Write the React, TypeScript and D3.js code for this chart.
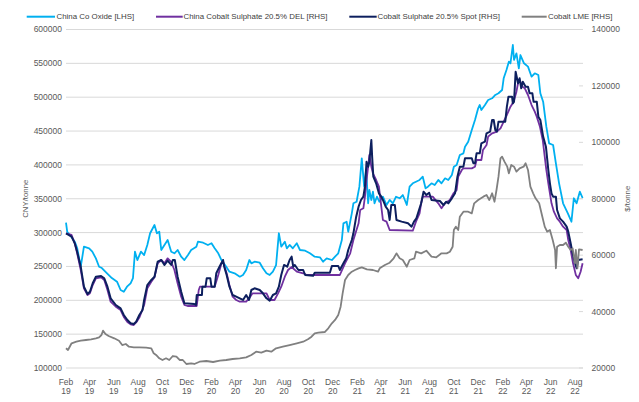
import React from "react";
import * as d3 from "d3";

const W = 639;
const H = 402;

// China Co Oxide [LHS], CNY/tonne
const coOxide: [string, number][] = [
  ["2019-02-01",314600],["2019-02-04",301300],["2019-02-11",296500],["2019-02-23",286600],["2019-03-01",277300],["2019-03-10",249600],["2019-03-18",279200],["2019-03-31",276800],["2019-04-08",271800],["2019-04-17",262000],["2019-04-25",249600],["2019-05-02",247700],["2019-05-15",239900],["2019-05-27",232900],["2019-06-09",227500],["2019-06-18",215200],["2019-06-26",212700],["2019-07-04",220100],["2019-07-13",225100],["2019-07-19",232900],["2019-07-24",271800],["2019-07-30",259500],["2019-08-08",271800],["2019-08-16",266900],["2019-08-24",281700],["2019-08-31",299000],["2019-09-11",311200],["2019-09-17",299000],["2019-09-23",301300],["2019-09-28",274300],["2019-10-06",281700],["2019-10-14",289100],["2019-10-23",271800],["2019-10-31",269400],["2019-11-08",274300],["2019-11-17",264400],["2019-11-25",259500],["2019-12-04",266900],["2019-12-12",274300],["2019-12-25",279200],["2019-12-29",286600],["2020-01-11",285100],["2020-01-23",281700],["2020-02-01",284200],["2020-02-09",276800],["2020-02-18",269400],["2020-02-26",259500],["2020-03-09",249600],["2020-03-17",242200],["2020-03-30",239900],["2020-04-12",234900],["2020-04-20",237400],["2020-04-28",244800],["2020-05-06",259500],["2020-05-11",254600],["2020-05-19",257000],["2020-06-01",255500],["2020-06-09",247300],["2020-06-18",239900],["2020-06-26",237400],["2020-07-04",242200],["2020-07-12",252100],["2020-07-19",299000],["2020-07-25",279200],["2020-08-03",286600],["2020-08-08",276800],["2020-08-15",281700],["2020-08-23",276800],["2020-09-02",284200],["2020-09-10",274300],["2020-09-23",273300],["2020-10-05",269400],["2020-10-17",264400],["2020-10-30",263500],["2020-11-07",257000],["2020-11-16",262000],["2020-11-29",259500],["2020-12-07",264400],["2020-12-15",269400],["2020-12-24",289100],["2020-12-28",313700],["2021-01-05",316100],["2021-01-09",301300],["2021-01-18",328500],["2021-01-22",343300],["2021-01-30",345600],["2021-02-06",367800],["2021-02-12",409700],["2021-02-18",367800],["2021-02-23",392500],["2021-02-28",343300],["2021-03-03",362900],["2021-03-08",348200],["2021-03-12",360400],["2021-03-16",343300],["2021-03-22",353000],["2021-03-28",345600],["2021-04-06",353000],["2021-04-15",340800],["2021-04-23",348200],["2021-05-01",343300],["2021-05-09",353000],["2021-05-18",350700],["2021-05-26",355500],["2021-06-05",340800],["2021-06-12",367800],["2021-06-20",372800],["2021-06-28",375200],["2021-07-07",377700],["2021-07-15",382600],["2021-07-22",365400],["2021-07-28",367800],["2021-08-06",372800],["2021-08-14",370300],["2021-08-23",377700],["2021-08-31",372800],["2021-09-09",380200],["2021-09-17",377700],["2021-09-26",385100],["2021-10-01",397300],["2021-10-08",399900],["2021-10-16",414600],["2021-10-25",417100],["2021-10-29",426900],["2021-11-06",434300],["2021-11-15",451600],["2021-11-23",466300],["2021-12-01",483600],["2021-12-05",488500],["2021-12-09",481100],["2021-12-18",488500],["2021-12-26",495900],["2022-01-05",498400],["2022-01-13",503300],["2022-01-21",505800],["2022-01-30",510600],["2022-02-03",527900],["2022-02-10",540200],["2022-02-16",552400],["2022-02-20",550100],["2022-02-26",577100],["2022-03-01",555000],["2022-03-07",564800],["2022-03-13",542700],["2022-03-17",562300],["2022-03-26",550100],["2022-04-05",545100],["2022-04-14",530300],["2022-04-22",535300],["2022-05-01",532800],["2022-05-06",505800],["2022-05-13",493400],["2022-05-21",456400],["2022-05-28",431900],["2022-06-07",429400],["2022-06-14",402400],["2022-06-22",372800],["2022-07-02",343300],["2022-07-14",328500],["2022-07-23",316100],["2022-07-29",350700],["2022-08-05",343300],["2022-08-13",360400],["2022-08-20",351100]
];

// China Cobalt Sulphate 20.5% DEL [RHS]
const sulphateDel: [string, number][] = [
  ["2019-02-01",67750],["2019-02-15",67160],["2019-02-23",64200],["2019-03-01",60650],["2019-03-10",54740],["2019-03-18",48250],["2019-03-27",45880],["2019-04-02",46480],["2019-04-09",49420],["2019-04-17",51800],["2019-04-30",52150],["2019-05-08",51200],["2019-05-16",47650],["2019-05-24",43500],["2019-06-06",41740],["2019-06-18",40560],["2019-06-26",38080],["2019-07-05",36310],["2019-07-13",35490],["2019-07-21",35240],["2019-07-28",36310],["2019-08-05",38190],["2019-08-16",42330],["2019-08-24",48250],["2019-09-03",50590],["2019-09-11",52150],["2019-09-19",57110],["2019-09-28",58290],["2019-10-06",57110],["2019-10-14",58880],["2019-10-23",57580],["2019-10-31",54740],["2019-11-08",50030],["2019-11-17",45280],["2019-11-25",42330],["2019-12-03",41980],["2019-12-24",41980],["2019-12-26",41980],["2019-12-31",47650],["2020-01-03",48820],["2020-02-09",48820],["2020-02-18",52970],["2020-02-26",57110],["2020-03-01",57580],["2020-03-10",53570],["2020-03-17",49420],["2020-03-25",45280],["2020-04-03",44110],["2020-04-12",43500],["2020-04-28",43500],["2020-05-06",44820],["2020-05-14",46480],["2020-06-18",46480],["2020-06-26",44110],["2020-07-08",44110],["2020-07-17",46480],["2020-07-25",48820],["2020-08-03",52370],["2020-08-11",54740],["2020-08-20",55800],["2020-09-02",54140],["2020-09-18",53570],["2020-09-27",52970],["2020-10-30",52970],["2020-12-19",52970],["2021-01-01",57110],["2021-01-14",60650],["2021-01-22",65380],["2021-02-04",71290],["2021-02-08",76010],["2021-02-16",76610],["2021-02-20",80740],["2021-02-24",86650],["2021-02-28",91370],["2021-03-03",95510],["2021-03-08",91370],["2021-03-12",89020],["2021-03-20",86650],["2021-03-27",84280],["2021-04-02",77180],["2021-04-06",72470],["2021-04-15",71880],["2021-04-23",68920],["2021-06-20",68670],["2021-06-28",71880],["2021-07-07",74840],["2021-07-11",78380],["2021-07-15",80740],["2021-08-09",80740],["2021-08-23",78380],["2021-08-31",76610],["2021-09-09",78380],["2021-09-21",79560],["2021-09-30",81930],["2021-10-08",83100],["2021-10-12",87820],["2021-10-21",90200],["2021-10-25",90780],["2021-11-15",90780],["2021-11-23",91370],["2021-11-27",93730],["2021-12-09",93730],["2021-12-13",97280],["2021-12-22",99050],["2021-12-26",102020],["2022-01-05",103200],["2022-01-17",103790],["2022-01-26",104970],["2022-02-03",107330],["2022-02-11",109690],["2022-02-20",112640],["2022-02-28",114410],["2022-03-07",117970],["2022-03-11",120930],["2022-03-15",122100],["2022-03-22",119720],["2022-03-28",119150],["2022-04-05",116780],["2022-04-14",113230],["2022-04-22",110860],["2022-04-27",109110],["2022-05-05",105540],["2022-05-12",100830],["2022-05-17",94930],["2022-05-21",90200],["2022-05-26",85480],["2022-05-30",81930],["2022-06-03",78380],["2022-06-09",75410],["2022-06-17",73060],["2022-06-24",71880],["2022-07-02",70110],["2022-07-11",68920],["2022-07-15",65380],["2022-07-21",61830],["2022-07-27",57110],["2022-08-03",53000],["2022-08-09",51800],["2022-08-15",54140],["2022-08-20",57110]
];

// Cobalt Sulphate 20.5% Spot [RHS]
const sulphateSpot: [string, number][] = [
  ["2019-02-01",67750],["2019-02-15",66550],["2019-02-23",64200],["2019-03-01",61230],["2019-03-10",55910],["2019-03-18",48820],["2019-03-27",46230],["2019-04-02",47050],["2019-04-09",50030],["2019-04-17",52370],["2019-04-30",52610],["2019-05-08",51800],["2019-05-16",48820],["2019-05-24",44710],["2019-06-06",42330],["2019-06-18",41160],["2019-06-26",38790],["2019-07-05",37020],["2019-07-13",35850],["2019-07-21",35600],["2019-07-27",36410],["2019-08-04",38790],["2019-08-12",40560],["2019-08-16",44110],["2019-08-24",49420],["2019-09-03",51200],["2019-09-11",52370],["2019-09-19",57690],["2019-09-28",58290],["2019-10-06",56520],["2019-10-14",58040],["2019-10-23",56520],["2019-10-27",58290],["2019-11-01",58290],["2019-11-08",52370],["2019-11-17",47050],["2019-11-25",42930],["2019-12-20",42690],["2019-12-24",42330],["2019-12-26",45880],["2020-01-08",45880],["2020-01-09",48820],["2020-01-17",48820],["2020-01-20",51800],["2020-01-29",51800],["2020-02-01",48820],["2020-02-09",48820],["2020-02-13",53570],["2020-02-22",56160],["2020-03-01",58290],["2020-03-04",55910],["2020-03-10",52970],["2020-03-17",48820],["2020-03-25",45880],["2020-04-03",45280],["2020-04-12",44710],["2020-04-20",44110],["2020-04-28",45880],["2020-05-05",44110],["2020-05-11",47650],["2020-05-19",48250],["2020-06-01",47650],["2020-06-09",46480],["2020-06-18",44710],["2020-06-26",43870],["2020-07-04",45880],["2020-07-12",46480],["2020-07-19",48820],["2020-07-25",52970],["2020-08-01",56520],["2020-08-09",55910],["2020-08-15",58290],["2020-08-20",59470],["2020-08-24",55910],["2020-08-28",56520],["2020-09-06",54740],["2020-09-18",54740],["2020-09-23",52970],["2020-10-13",52720],["2020-10-17",53780],["2020-11-24",53780],["2020-11-29",56160],["2020-12-15",56160],["2020-12-19",54740],["2020-12-28",57110],["2021-01-04",58880],["2021-01-09",61830],["2021-01-18",65380],["2021-01-22",67750],["2021-01-29",73640],["2021-02-04",77180],["2021-02-10",79560],["2021-02-16",80740],["2021-02-20",84280],["2021-02-24",93140],["2021-02-28",91370],["2021-03-03",93140],["2021-03-08",100830],["2021-03-10",94930],["2021-03-13",87820],["2021-03-20",85480],["2021-03-27",81930],["2021-04-02",80740],["2021-04-06",79560],["2021-04-13",77180],["2021-04-19",76010],["2021-04-23",72470],["2021-04-27",77780],["2021-05-06",77780],["2021-05-10",72470],["2021-05-23",71880],["2021-06-08",71290],["2021-06-17",70110],["2021-06-23",71880],["2021-06-29",73060],["2021-07-07",76610],["2021-07-11",78380],["2021-07-17",82500],["2021-07-24",81330],["2021-07-31",82140],["2021-08-06",79560],["2021-08-27",79200],["2021-09-05",77780],["2021-09-12",78950],["2021-09-17",78380],["2021-09-26",80150],["2021-10-04",81930],["2021-10-10",87820],["2021-10-16",91370],["2021-10-25",91370],["2021-10-29",94340],["2021-11-15",94340],["2021-11-19",92560],["2021-11-23",92560],["2021-11-27",96110],["2021-12-05",96110],["2021-12-09",99660],["2021-12-18",100240],["2021-12-22",103200],["2021-12-31",103790],["2022-01-05",107920],["2022-01-09",107920],["2022-01-13",104370],["2022-01-17",103790],["2022-01-21",107330],["2022-02-07",107330],["2022-02-11",112640],["2022-02-15",116180],["2022-02-24",116180],["2022-02-26",113830],["2022-03-01",114410],["2022-03-05",125040],["2022-03-11",120930],["2022-03-15",122700],["2022-03-19",119150],["2022-03-23",121500],["2022-03-30",119720],["2022-04-05",119720],["2022-04-09",117380],["2022-04-16",117380],["2022-04-19",114410],["2022-04-27",114410],["2022-05-01",109110],["2022-05-06",107920],["2022-05-13",102020],["2022-05-20",98470],["2022-05-26",90200],["2022-05-30",85480],["2022-06-03",81930],["2022-06-07",80740],["2022-06-14",80740],["2022-06-17",76010],["2022-06-24",73060],["2022-07-02",71880],["2022-07-11",70110],["2022-07-15",68330],["2022-07-21",64200],["2022-07-26",60650],["2022-08-01",57110],["2022-08-05",55340],["2022-08-09",58290],["2022-08-20",58530]
];

// Cobalt LME [RHS]
const cobaltLme: [string, number][] = [
  ["2019-02-01",26980],["2019-02-06",26380],["2019-02-15",28760],["2019-02-27",29320],["2019-03-10",29680],["2019-03-23",29930],["2019-04-05",30170],["2019-04-17",30530],["2019-04-25",30880],["2019-05-01",31700],["2019-05-05",33230],["2019-05-11",32050],["2019-05-19",31340],["2019-06-02",30530],["2019-06-14",29680],["2019-06-22",28150],["2019-07-01",28510],["2019-07-09",27550],["2019-07-21",27340],["2019-08-04",27340],["2019-08-21",27200],["2019-09-03",26980],["2019-09-09",25200],["2019-09-15",24610],["2019-09-23",23440],["2019-10-01",22840],["2019-10-10",23440],["2019-10-18",22840],["2019-10-27",24250],["2019-11-05",24010],["2019-11-13",22840],["2019-11-21",22840],["2019-11-30",21420],["2019-12-12",21670],["2019-12-20",21420],["2020-01-02",22230],["2020-01-19",22480],["2020-02-05",22130],["2020-02-22",22590],["2020-03-09",22840],["2020-03-25",23190],["2020-04-12",23440],["2020-04-28",23790],["2020-05-11",24610],["2020-05-23",25780],["2020-06-05",25420],["2020-06-18",26130],["2020-06-30",25780],["2020-07-12",26980],["2020-07-29",27550],["2020-08-15",28150],["2020-09-02",28760],["2020-09-18",29320],["2020-09-30",30170],["2020-10-09",31100],["2020-10-17",32300],["2020-10-26",32520],["2020-11-11",32760],["2020-11-20",34070],["2020-11-29",35850],["2020-12-07",37020],["2020-12-15",38790],["2020-12-21",41740],["2020-12-26",46480],["2021-01-01",51200],["2021-01-09",52970],["2021-01-18",54140],["2021-01-26",54740],["2021-02-04",55340],["2021-02-12",55700],["2021-02-25",54990],["2021-03-12",54740],["2021-03-25",54140],["2021-03-29",55340],["2021-04-11",56520],["2021-04-23",57330],["2021-05-03",58890],["2021-05-10",60650],["2021-05-18",58890],["2021-05-26",58290],["2021-06-05",55910],["2021-06-12",58290],["2021-06-24",58890],["2021-06-28",61230],["2021-07-11",60650],["2021-07-24",61580],["2021-08-06",59460],["2021-08-18",59240],["2021-08-31",60650],["2021-09-13",60650],["2021-09-21",61230],["2021-09-28",63000],["2021-10-01",68920],["2021-10-06",70110],["2021-10-12",68920],["2021-10-16",73640],["2021-10-25",75410],["2021-11-06",75410],["2021-11-15",74840],["2021-11-21",78380],["2021-12-01",79560],["2021-12-14",80740],["2021-12-22",81330],["2021-12-29",79560],["2022-01-05",81930],["2022-01-11",78950],["2022-01-16",83100],["2022-01-21",87820],["2022-01-26",94340],["2022-01-30",94930],["2022-02-05",93140],["2022-02-12",91370],["2022-02-16",89020],["2022-02-22",91970],["2022-03-01",91370],["2022-03-07",89600],["2022-03-15",90790],["2022-03-25",91370],["2022-03-30",92570],["2022-04-05",90200],["2022-04-11",84280],["2022-04-18",81930],["2022-04-24",80160],["2022-05-03",78390],["2022-05-11",73640],["2022-05-17",70110],["2022-05-23",68330],["2022-05-30",68920],["2022-06-06",65380],["2022-06-12",61830],["2022-06-14",55340],["2022-06-17",63000],["2022-06-24",63600],["2022-07-02",63600],["2022-07-09",64420],["2022-07-15",63000],["2022-07-21",61830],["2022-07-26",62430],["2022-08-01",57110],["2022-08-03",61830],["2022-08-07",55340],["2022-08-11",62080],["2022-08-20",61830]
];

const leftTicks = [100000, 150000, 200000, 250000, 300000, 350000, 400000, 450000, 500000, 550000, 600000];
const rightTicks = [20000, 40000, 60000, 80000, 100000, 120000, 140000];
const xTickDates = [
  "2019-02-01","2019-04-01","2019-06-01","2019-08-01","2019-10-01","2019-12-01",
  "2020-02-01","2020-04-01","2020-06-01","2020-08-01","2020-10-01","2020-12-01",
  "2021-02-01","2021-04-01","2021-06-01","2021-08-01","2021-10-01","2021-12-01",
  "2022-02-01","2022-04-01","2022-06-01","2022-08-01"
];
const xDomain = ["2019-02-01", "2022-08-21"];
const leftTitle = "CNY/tonne";
const rightTitle = "$/tonne";

const seriesNames = [
  "China Co Oxide [LHS]",
  "China Cobalt Sulphate 20.5% DEL [RHS]",
  "Cobalt Sulphate 20.5% Spot [RHS]",
  "Cobalt LME [RHS]"
];

const parse = d3.timeParse("%Y-%m-%d");

export default function App() {
  const left = 66, right = 583, top = 29.5, bottom = 368;
  const x = d3.scaleTime().domain(xDomain.map((s) => parse(s) as Date)).range([left, right]);
  const yL = d3.scaleLinear().domain([100000, 600000]).range([bottom, top]);
  const yR = d3.scaleLinear().domain([20000, 140000]).range([bottom, top]);

  const mk = (scale: d3.ScaleLinear<number, number>) =>
    d3.line<[string, number]>()
      .x((d) => x(parse(d[0]) as Date))
      .y((d) => scale(d[1]));

  const series = [
    { name: seriesNames[0], data: coOxide, scale: yL, color: "#00b0f0", width: 1.8 },
    { name: seriesNames[1], data: sulphateDel, scale: yR, color: "#7030a0", width: 1.8 },
    { name: seriesNames[2], data: sulphateSpot, scale: yR, color: "#0d1f5e", width: 2 },
    { name: seriesNames[3], data: cobaltLme, scale: yR, color: "#808080", width: 1.8 },
  ];

  const legendPos = [
    { x1: 26.7, x2: 55, tx: 56.5 },
    { x1: 156, x2: 182.7, tx: 183.5 },
    { x1: 349.3, x2: 376.7, tx: 377.5 },
    { x1: 521.7, x2: 546.7, tx: 548 },
  ];

  const fmtM = d3.timeFormat("%b");
  const fmtY = d3.timeFormat("%y");
  const textColor = "#595959";
  const gridColor = "#d9d9d9";
  const font = "'Liberation Sans', Arial, sans-serif";

  return (
    <svg
      width={W}
      height={H}
      style={{ position: "absolute", left: 0, top: 0, background: "#fff" }}
      fontFamily={font}
    >
      <rect x={0} y={0} width={W} height={H} fill="#fff" />
      {leftTicks.map((t) => (
        <g key={"l" + t}>
          <line x1={left} x2={right} y1={yL(t)} y2={yL(t)} stroke={gridColor} strokeWidth={1} />
          <text x={62} y={yL(t)} dy="0.35em" textAnchor="end" fontSize={8.5} fill={textColor}>
            {t}
          </text>
        </g>
      ))}
      {rightTicks.map((t) => (
        <g key={"r" + t}>
          <line x1={right - 4} x2={right} y1={yR(t)} y2={yR(t)} stroke={gridColor} strokeWidth={1} />
          <text x={591.5} y={yR(t)} dy="0.35em" textAnchor="start" fontSize={8.5} fill={textColor}>
            {t}
          </text>
        </g>
      ))}
      {xTickDates.map((s) => {
        const d = parse(s) as Date;
        const xx = x(d);
        return (
          <g key={s}>
            <text x={xx} y={384.5} textAnchor="middle" fontSize={8.5} fill={textColor}>
              {fmtM(d)}
            </text>
            <text x={xx} y={394} textAnchor="middle" fontSize={8.5} fill={textColor}>
              {fmtY(d)}
            </text>
          </g>
        );
      })}
      <text
        transform={`translate(25.5,${(top + bottom) / 2}) rotate(-90)`}
        textAnchor="middle"
        dy="0.35em"
        fontSize={7.8}
        fill={textColor}
      >
        {leftTitle}
      </text>
      <text
        transform={`translate(627,${(top + bottom) / 2}) rotate(-90)`}
        textAnchor="middle"
        dy="0.35em"
        fontSize={7.8}
        fill={textColor}
      >
        {rightTitle}
      </text>
      {series.map((s) => (
        <path
          key={s.name}
          d={mk(s.scale)(s.data) || ""}
          fill="none"
          stroke={s.color}
          strokeWidth={s.width}
          strokeLinejoin="round"
        />
      ))}
      {series.map((s, i) => (
        <g key={"lg" + i}>
          <line x1={legendPos[i].x1} x2={legendPos[i].x2} y1={16.7} y2={16.7} stroke={s.color} strokeWidth={2} />
          <text x={legendPos[i].tx} y={16.7} dy="0.35em" fontSize={7.9} fill="#404040">
            {s.name}
          </text>
        </g>
      ))}
    </svg>
  );
}
